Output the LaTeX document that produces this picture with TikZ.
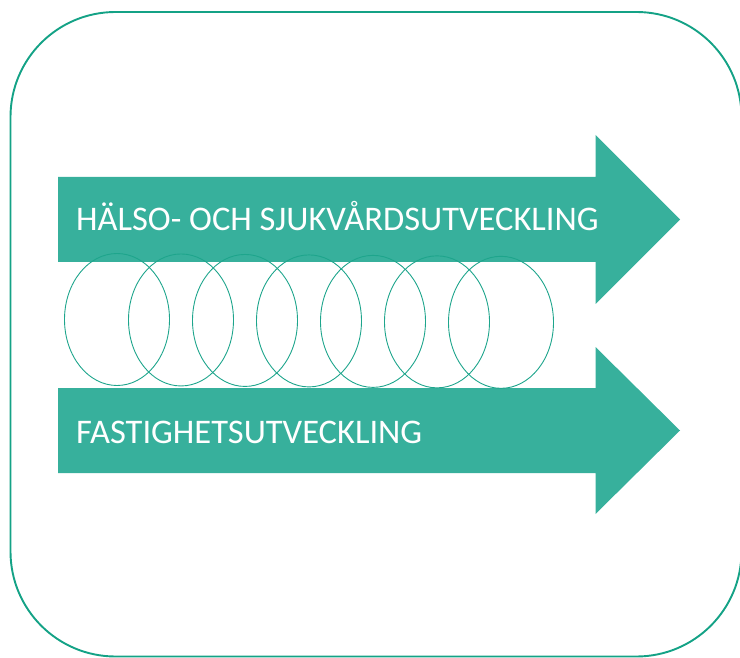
\documentclass[tikz,border=0pt]{standalone}
\usepackage{fontspec}
\setmainfont{Carlito}
\definecolor{bandteal}{HTML}{37B09C}
\definecolor{frameteal}{HTML}{14A286}
\definecolor{loopteal}{HTML}{1EA58C}
\begin{document}
\begin{tikzpicture}[x=1pt,y=-1pt]
\tikzset{band/.style={fill=bandteal}, spiral/.style={draw=loopteal, line width=0.9pt}, bandtext/.style={anchor=base west, text=white, inner sep=0pt, font=\fontsize{34.5}{34.5}\selectfont}}
\useasboundingbox (0,0) rectangle (740,658);
\draw[frameteal, line width=1.9pt, rounded corners=105pt] (10.5,12) rectangle (741.5,656.5);
\fill[band] (58,177) -- (595.5,177) -- (595.5,135) -- (680,219.5) -- (595.5,304) -- (595.5,262) -- (58,262) -- cycle;
\fill[band] (58,388) -- (595.5,388) -- (595.5,347) -- (680,430.5) -- (595.5,514) -- (595.5,473) -- (58,473) -- cycle;
\node[bandtext] (halsa) at (76,231) {HÄLSO- OCH SJUKVÅRDSUTVECKLING};
\node[bandtext] (fastighet) at (76,443) {FASTIGHETSUTVECKLING};
\foreach \i in {0,...,6}
  \draw[spiral] ({117+64*\i},{319.5+0.47*\i}) ellipse [x radius=52.5, y radius=66];
\end{tikzpicture}
\end{document}
